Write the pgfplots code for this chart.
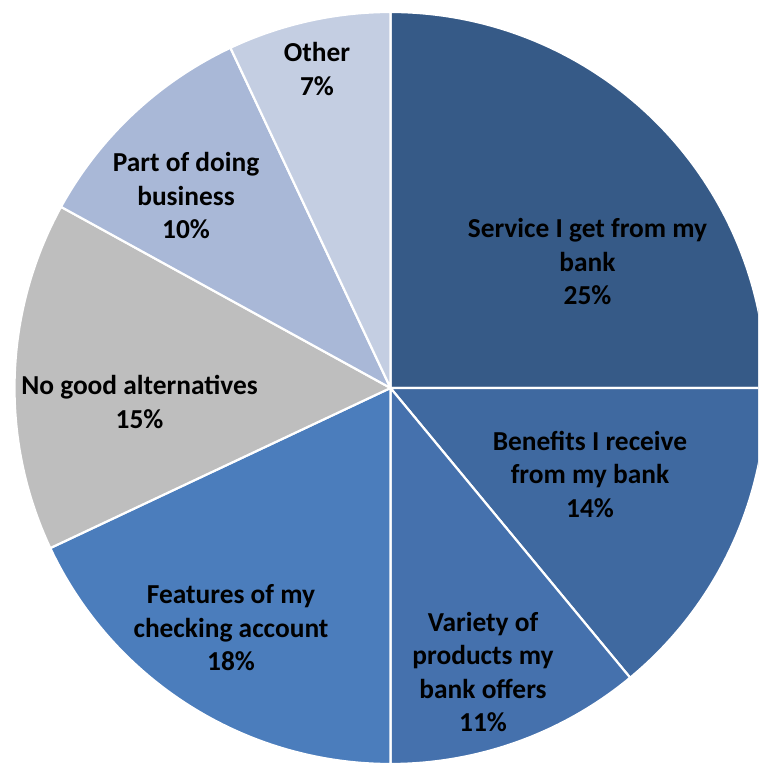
\documentclass[border=0pt]{standalone}
\usepackage{pgfplots}
\pgfplotsset{compat=1.18}
\usepackage{fontspec}
\setmainfont{Carlito}
\definecolor{cService}{HTML}{365A87}
\definecolor{cBenefits}{HTML}{3F69A0}
\definecolor{cVariety}{HTML}{4571AD}
\definecolor{cFeatures}{HTML}{4B7DBC}
\definecolor{cNoGood}{HTML}{BEBEBE}
\definecolor{cPart}{HTML}{A9B8D7}
\definecolor{cOther}{HTML}{C4CEE2}
% slice shares in percent, clockwise from 12 o'clock
\def\vService{25}
\def\vBenefits{14}
\def\vVariety{11}
\def\vFeatures{18}
\def\vNoGood{15}
\def\vPart{10}
\def\vOther{7}
\newcommand{\slice}[3]{% start percent, value, colour
  \fill[#3,draw=white,line width=2.2pt,line join=round]
    (axis cs:390.5,375) -- ++({90-3.6*(#1)}:376pt)
    arc[start angle={90-3.6*(#1)},end angle={90-3.6*(#1+#2)},radius=376pt] -- cycle;
}
\begin{document}
\begin{tikzpicture}
\useasboundingbox (0,0) rectangle (758pt,763pt);
\begin{axis}[
  anchor=origin, at={(0pt,0pt)},
  x=1pt, y=1pt,
  xmin=0, xmax=758, ymin=0, ymax=763,
  hide axis,
  clip=true,
]
\slice{0}{\vService}{cService}
\slice{25}{\vBenefits}{cBenefits}
\slice{39}{\vVariety}{cVariety}
\slice{50}{\vFeatures}{cFeatures}
\slice{68}{\vNoGood}{cNoGood}
\slice{83}{\vPart}{cPart}
\slice{93}{\vOther}{cOther}
\begin{scope}[every node/.style={align=center,font=\fontsize{27.4}{33.5}\selectfont\bfseries,text=black,inner sep=0pt}]
\node at (axis cs:587.5,501) {Service I get from my\\bank\\\vService\%};
\node at (axis cs:590,289) {Benefits I receive\\from my bank\\\vBenefits\%};
\node at (axis cs:483,91) {Variety of\\products my\\bank offers\\\vVariety\%};
\node at (axis cs:231,135) {Features of my\\checking account\\\vFeatures\%};
\node at (axis cs:139.5,361) {No good alternatives\\\vNoGood\%};
\node at (axis cs:186,567) {Part of doing\\business\\\vPart\%};
\node at (axis cs:317,694) {Other\\\vOther\%};
\end{scope}
\end{axis}
\end{tikzpicture}
\end{document}
